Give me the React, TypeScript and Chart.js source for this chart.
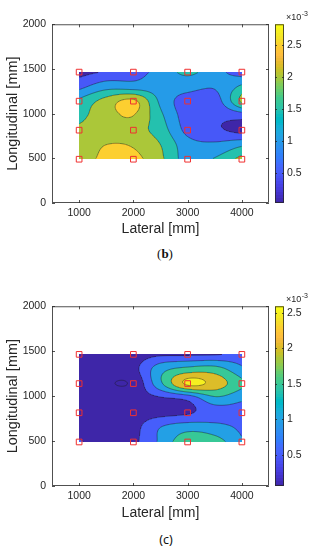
import React, { useEffect, useRef } from "react";
import { Chart, registerables } from "chart.js";
Chart.register(...registerables);

// ---------- data ----------
const xGrid = [1000, 1500, 2000, 2500, 3000, 3500, 4000];
const yGrid = [1465, 1302.5, 1140, 977.5, 815, 652.5, 490]; // rows top -> bottom
const sensorX = [1000, 2000, 3000, 4000];
const sensorY = [490, 815, 1140, 1465];

// strain field (x10^-3), rows follow yGrid
const fieldB = [
  [0.30, 0.55, 0.75, 1.20, 1.60, 1.20, 0.70],
  [0.85, 1.30, 1.25, 1.25, 1.20, 1.05, 1.60],
  [1.60, 2.20, 2.60, 1.40, 0.75, 0.75, 2.10],
  [1.85, 2.30, 2.50, 1.60, 0.75, 0.60, 0.70],
  [2.10, 2.20, 2.20, 1.75, 0.85, 0.60, 0.35],
  [2.20, 2.50, 2.45, 2.00, 1.20, 1.10, 1.40],
  [2.30, 2.60, 2.65, 2.10, 1.30, 1.55, 2.20],
];
const fieldC = [
  [0.20, 0.20, 0.25, 0.40, 0.40, 0.45, 0.65],
  [0.20, 0.20, 0.35, 1.30, 1.65, 1.70, 1.10],
  [0.30, 0.05, 0.10, 1.40, 2.60, 2.30, 1.60],
  [0.30, 0.25, 0.30, 0.45, 0.65, 1.40, 1.10],
  [0.30, 0.30, 0.30, 0.35, 0.45, 0.70, 0.75],
  [0.30, 0.30, 0.35, 1.00, 1.30, 1.20, 0.90],
  [0.55, 0.30, 0.40, 1.10, 1.90, 1.75, 1.05],
];
const contourLevels = [0, 0.5, 1, 1.5, 2, 2.5];
const cbRangeB = [0.03, 2.82];
const cbRangeC = [0.06, 2.59];
const cbTicks = [0.5, 1, 1.5, 2, 2.5];
const xTicks = [1000, 2000, 3000, 4000];
const yTicks = [0, 500, 1000, 1500, 2000];

// ---------- style ----------
const FONT = '"Liberation Sans", Arial, Helvetica, sans-serif';
const INK = "#262626";

const PARULA = [
  [0.2422, 0.1504, 0.6603], [0.2504, 0.165, 0.7076], [0.2578, 0.1818, 0.7511], [0.2647, 0.1978, 0.7952],
  [0.2706, 0.2147, 0.8364], [0.2751, 0.2342, 0.871], [0.2783, 0.2559, 0.8991], [0.2803, 0.2782, 0.9221],
  [0.2813, 0.3006, 0.9414], [0.281, 0.3228, 0.9579], [0.2795, 0.3447, 0.9717], [0.276, 0.3667, 0.9829],
  [0.2699, 0.3892, 0.9906], [0.2602, 0.4123, 0.9952], [0.244, 0.4358, 0.9988], [0.2206, 0.4603, 0.9973],
  [0.1963, 0.4847, 0.9892], [0.1834, 0.5074, 0.9798], [0.1786, 0.5289, 0.9682], [0.1764, 0.5499, 0.952],
  [0.1687, 0.5703, 0.9359], [0.154, 0.5902, 0.9218], [0.146, 0.6091, 0.9079], [0.138, 0.6276, 0.8973],
  [0.1248, 0.6459, 0.8883], [0.1113, 0.6635, 0.8763], [0.0952, 0.6798, 0.8598], [0.0689, 0.6948, 0.8394],
  [0.0297, 0.7082, 0.8163], [0.0036, 0.7203, 0.7917], [0.0067, 0.7312, 0.766], [0.0433, 0.7411, 0.7394],
  [0.0964, 0.75, 0.712], [0.1408, 0.7584, 0.6842], [0.1717, 0.767, 0.6554], [0.1938, 0.7758, 0.6251],
  [0.2161, 0.7843, 0.5923], [0.247, 0.7918, 0.5567], [0.2906, 0.7973, 0.5188], [0.3406, 0.8008, 0.4789],
  [0.3909, 0.8029, 0.4354], [0.4456, 0.8024, 0.3909], [0.5044, 0.7993, 0.348], [0.5616, 0.7942, 0.3045],
  [0.6174, 0.7876, 0.2612], [0.672, 0.7793, 0.2227], [0.7242, 0.7698, 0.191], [0.7738, 0.7598, 0.1646],
  [0.8203, 0.7498, 0.1535], [0.8634, 0.7406, 0.1596], [0.9035, 0.733, 0.1774], [0.9393, 0.7288, 0.21],
  [0.9728, 0.7298, 0.2394], [0.9956, 0.7434, 0.2371], [0.997, 0.7659, 0.2199], [0.9952, 0.7893, 0.2028],
  [0.9892, 0.8136, 0.1885], [0.9786, 0.8386, 0.1766], [0.9676, 0.8639, 0.1643], [0.961, 0.889, 0.1537],
  [0.9597, 0.9135, 0.1423], [0.9628, 0.9373, 0.1265], [0.9691, 0.9606, 0.1064], [0.9769, 0.9839, 0.0805],
];
function rgbOf(c: number[]) {
  return `rgb(${Math.round(c[0] * 255)},${Math.round(c[1] * 255)},${Math.round(c[2] * 255)})`;
}
function colorFor(v: number, cb: number[]) {
  const f = (v - cb[0]) / (cb[1] - cb[0]);
  const idx = Math.max(0, Math.min(63, Math.floor(f * 64)));
  return rgbOf(PARULA[idx]);
}

// ---------- interpolation ----------
function gridVal(f: number[][], r: number, c: number): number {
  const ny = f.length, nx = f[0].length;
  if (r < 0) return 2 * gridVal(f, 0, c) - gridVal(f, 1, c);
  if (r > ny - 1) return 2 * gridVal(f, ny - 1, c) - gridVal(f, ny - 2, c);
  if (c < 0) return 2 * f[r][0] - f[r][1];
  if (c > nx - 1) return 2 * f[r][nx - 1] - f[r][nx - 2];
  return f[r][c];
}
function cr(p0: number, p1: number, p2: number, p3: number, t: number) {
  return p1 + 0.5 * t * (p2 - p0 + t * (2 * p0 - 5 * p1 + 4 * p2 - p3 + t * (3 * (p1 - p2) + p3 - p0)));
}
function sampleField(f: number[][], x: number, y: number) {
  const nx = xGrid.length, ny = yGrid.length;
  let u = (x - xGrid[0]) / (xGrid[1] - xGrid[0]);
  let v = (y - yGrid[0]) / (yGrid[1] - yGrid[0]);
  u = Math.max(0, Math.min(nx - 1, u));
  v = Math.max(0, Math.min(ny - 1, v));
  const i = Math.min(nx - 2, Math.floor(u));
  const j = Math.min(ny - 2, Math.floor(v));
  const tu = u - i, tv = v - j;
  const rows = [-1, 0, 1, 2].map((dr) =>
    cr(gridVal(f, j + dr, i - 1), gridVal(f, j + dr, i), gridVal(f, j + dr, i + 1), gridVal(f, j + dr, i + 2), tu)
  );
  return cr(rows[0], rows[1], rows[2], rows[3], tv);
}
function bandColor(v: number, cb: number[]) {
  let k = -1;
  for (let n = 0; n < contourLevels.length; n++) if (v >= contourLevels[n]) k = n;
  const lv = k < 0 ? cb[0] : contourLevels[k];
  return colorFor(Math.max(lv, cb[0]), cb);
}

function makePlugin(field: number[][], cb: number[]) {
  return {
    id: "contour",
    beforeDatasetsDraw(chart: any) {
      const { ctx } = chart;
      const xs = chart.scales.x, ys = chart.scales.y;
      const left = Math.round(xs.getPixelForValue(Math.min(...xGrid)));
      const right = Math.round(xs.getPixelForValue(Math.max(...xGrid)));
      const top = Math.round(ys.getPixelForValue(Math.max(...yGrid)));
      const bottom = Math.round(ys.getPixelForValue(Math.min(...yGrid)));
      const W = right - left, H = bottom - top;
      const vals: number[][] = [];
      for (let j = 0; j < H; j++) {
        const yv = ys.getValueForPixel(top + j + 0.5);
        const row: number[] = [];
        for (let i = 0; i < W; i++) row.push(sampleField(field, xs.getValueForPixel(left + i + 0.5), yv));
        vals.push(row);
      }
      ctx.save();
      for (let j = 0; j < H; j++) {
        let start = 0;
        let cur = bandColor(vals[j][0], cb);
        for (let i = 1; i <= W; i++) {
          const c = i < W ? bandColor(vals[j][i], cb) : "";
          if (c !== cur) {
            ctx.fillStyle = cur;
            ctx.fillRect(left + start, top + j, i - start, 1);
            start = i;
            cur = c;
          }
        }
      }
      ctx.lineWidth = 0.6;
      ctx.strokeStyle = "rgba(25,25,25,0.75)";
      for (const L of contourLevels) {
        ctx.beginPath();
        for (let j = 0; j < H - 1; j++) {
          for (let i = 0; i < W - 1; i++) {
            const a = vals[j][i], b = vals[j][i + 1], c = vals[j + 1][i + 1], d = vals[j + 1][i];
            const xa = left + i + 0.5, ya = top + j + 0.5;
            const pts: number[][] = [];
            if (a < L !== b < L) pts.push([xa + (L - a) / (b - a), ya]);
            if (b < L !== c < L) pts.push([xa + 1, ya + (L - b) / (c - b)]);
            if (d < L !== c < L) pts.push([xa + (L - d) / (c - d), ya + 1]);
            if (a < L !== d < L) pts.push([xa, ya + (L - a) / (d - a)]);
            for (let k = 0; k + 1 < pts.length; k += 2) {
              ctx.moveTo(pts[k][0], pts[k][1]);
              ctx.lineTo(pts[k + 1][0], pts[k + 1][1]);
            }
          }
        }
        ctx.stroke();
      }
      ctx.restore();
    },
    afterDraw(chart: any) {
      const { ctx, chartArea: ca } = chart;
      const xs = chart.scales.x, ys = chart.scales.y, cbs = chart.scales.cb;
      ctx.save();
      ctx.strokeStyle = INK;
      ctx.lineWidth = 0.8;
      ctx.strokeRect(ca.left + 0.5, ca.top + 0.5, ca.right - ca.left - 1, ca.bottom - ca.top - 1);
      ctx.beginPath();
      for (const v of xTicks) {
        const p = Math.round(xs.getPixelForValue(v)) + 0.5;
        ctx.moveTo(p, ca.bottom); ctx.lineTo(p, ca.bottom - 3);
        ctx.moveTo(p, ca.top); ctx.lineTo(p, ca.top + 3);
      }
      for (const v of yTicks) {
        const p = Math.round(ys.getPixelForValue(v)) + 0.5;
        ctx.moveTo(ca.left, p); ctx.lineTo(ca.left + 3, p);
        ctx.moveTo(ca.right, p); ctx.lineTo(ca.right - 3, p);
      }
      ctx.stroke();
      // colorbar
      const bx = ca.right + 6, bw = 9;
      for (let k = 0; k < 64; k++) {
        const v0 = cb[0] + (k / 64) * (cb[1] - cb[0]);
        const v1 = cb[0] + ((k + 1) / 64) * (cb[1] - cb[0]);
        const y0 = cbs.getPixelForValue(v1), y1 = cbs.getPixelForValue(v0);
        ctx.fillStyle = rgbOf(PARULA[k]);
        ctx.fillRect(bx, Math.floor(y0), bw, Math.ceil(y1) - Math.floor(y0));
      }
      ctx.strokeStyle = INK;
      ctx.lineWidth = 0.8;
      ctx.strokeRect(bx + 0.5, ca.top + 0.5, bw - 1, ca.bottom - ca.top - 1);
      ctx.beginPath();
      for (const v of cbTicks) {
        const p = Math.round(cbs.getPixelForValue(v)) + 0.5;
        ctx.moveTo(bx + bw, p); ctx.lineTo(bx + bw - 2, p);
        ctx.moveTo(bx, p); ctx.lineTo(bx + 2, p);
      }
      ctx.stroke();
      ctx.fillStyle = INK;
      ctx.textBaseline = "alphabetic";
      ctx.textAlign = "left";
      ctx.font = `9px ${FONT}`;
      ctx.fillText("\u00d710", bx + 11, ca.top - 4);
      const w = ctx.measureText("\u00d710").width;
      ctx.font = `7px ${FONT}`;
      ctx.fillText("-3", bx + 11 + w + 0.5, ca.top - 8);
      ctx.restore();
    },
  };
}

function makeConfig(field: number[][], cb: number[], xAxisH: number): any {
  const pts: { x: number; y: number }[] = [];
  for (const y of sensorY) for (const x of sensorX) pts.push({ x, y });
  return {
    type: "scatter",
    data: {
      datasets: [
        {
          data: pts,
          pointStyle: "rect",
          pointRadius: 4,
          borderColor: "#f03030",
          backgroundColor: "rgba(0,0,0,0)",
          borderWidth: 1,
          xAxisID: "x",
          yAxisID: "y",
        },
      ],
    },
    options: {
      animation: false,
      responsive: false,
      devicePixelRatio: 1,
      layout: { padding: { top: 17, left: 0, right: 0, bottom: 0 } },
      plugins: { legend: { display: false }, tooltip: { enabled: false } },
      scales: {
        x: {
          type: "linear",
          position: "bottom",
          min: 500,
          max: 4500,
          afterBuildTicks: (s: any) => { s.ticks = xTicks.map((v) => ({ value: v })); },
          afterFit: (s: any) => { s.height = xAxisH; },
          grid: { display: false, drawTicks: false },
          border: { display: false },
          ticks: { color: INK, font: { family: FONT, size: 10.5 }, padding: 4, maxRotation: 0, autoSkip: false, callback: (v: any) => String(v) },
          title: { display: true, text: "Lateral [mm]", color: INK, font: { family: FONT, size: 14 }, padding: { top: 0, bottom: 2.6 } },
        },
        y: {
          type: "linear",
          position: "left",
          min: 0,
          max: 2000,
          afterBuildTicks: (s: any) => { s.ticks = yTicks.map((v) => ({ value: v })); },
          afterFit: (s: any) => { s.width = 52; },
          grid: { display: false, drawTicks: false },
          border: { display: false },
          ticks: { color: INK, font: { family: FONT, size: 10.5 }, padding: 6, autoSkip: false, callback: (v: any) => String(v) },
          title: { display: true, text: "Longitudinal [mm]", color: INK, font: { family: FONT, size: 14.5 }, padding: { top: 4, bottom: 0 } },
        },
        cb: {
          type: "linear",
          position: "right",
          min: cb[0],
          max: cb[1],
          afterBuildTicks: (s: any) => { s.ticks = cbTicks.map((v) => ({ value: v })); },
          afterFit: (s: any) => { s.width = 48; },
          grid: { display: false, drawTicks: false },
          border: { display: false },
          ticks: { color: INK, font: { family: FONT, size: 10.5 }, padding: 18, autoSkip: false, callback: (v: any) => String(v) },
        },
      },
    },
    plugins: [makePlugin(field, cb)],
  };
}

function ContourChart(props: { field: number[][]; cb: number[]; top: number; height: number; xAxisH: number }) {
  const ref = useRef<HTMLCanvasElement>(null);
  useEffect(() => {
    const chart = new Chart(ref.current as HTMLCanvasElement, makeConfig(props.field, props.cb, props.xAxisH));
    return () => chart.destroy();
  }, []);
  return (
    <canvas
      ref={ref}
      width={317}
      height={props.height}
      style={{ position: "absolute", left: 0, top: props.top, width: 317, height: props.height }}
    />
  );
}

export default function App() {
  return (
    <div style={{ position: "absolute", left: 0, top: 0, width: 317, height: 550, background: "#fff" }}>
      <ContourChart field={fieldB} cb={cbRangeB} top={0} height={240} xAxisH={37} />
      <div style={{ position: "absolute", left: 150, top: 247, width: 30, textAlign: "center", fontFamily: '"Liberation Serif", serif', fontSize: 13, lineHeight: "14px", color: "#111" }}>
        (<b>b</b>)
      </div>
      <ContourChart field={fieldC} cb={cbRangeC} top={282} height={242} xAxisH={38} />
      <div style={{ position: "absolute", left: 151, top: 532, width: 30, textAlign: "center", fontFamily: '"Noto Sans", sans-serif', fontSize: 12.5, lineHeight: "16px", color: "#111" }}>
        (c)
      </div>
    </div>
  );
}
